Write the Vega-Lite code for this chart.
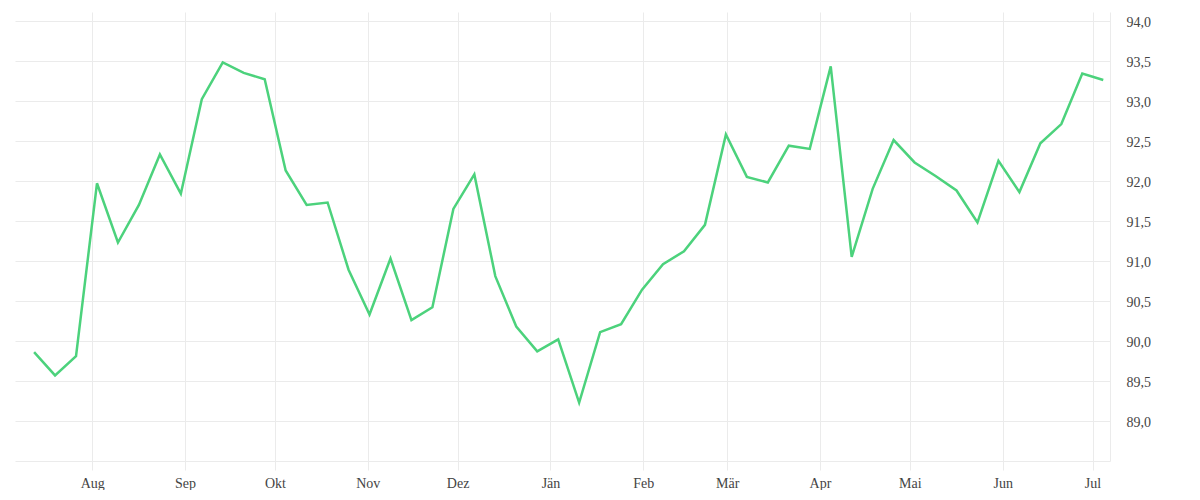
{
  "$schema": "https://vega.github.io/schema/vega-lite/v6.json",
  "width": 1095,
  "height": 449,
  "padding": {"left": 15, "top": 12, "right": 0, "bottom": 0},
  "data": {
    "values": [
      {"date": "2022-07-12T14:00", "value": 89.86},
      {"date": "2022-07-19T14:00", "value": 89.57},
      {"date": "2022-07-26T14:00", "value": 89.81},
      {"date": "2022-08-02T14:00", "value": 91.97},
      {"date": "2022-08-09T14:00", "value": 91.23},
      {"date": "2022-08-16T14:00", "value": 91.70},
      {"date": "2022-08-23T14:00", "value": 92.33},
      {"date": "2022-08-30T14:00", "value": 91.84},
      {"date": "2022-09-06T14:00", "value": 93.02},
      {"date": "2022-09-13T14:00", "value": 93.48},
      {"date": "2022-09-20T14:00", "value": 93.35},
      {"date": "2022-09-27T14:00", "value": 93.27},
      {"date": "2022-10-04T14:00", "value": 92.13},
      {"date": "2022-10-11T14:00", "value": 91.70},
      {"date": "2022-10-18T14:00", "value": 91.73},
      {"date": "2022-10-25T14:00", "value": 90.89},
      {"date": "2022-11-01T14:00", "value": 90.33},
      {"date": "2022-11-08T14:00", "value": 91.03},
      {"date": "2022-11-15T14:00", "value": 90.26},
      {"date": "2022-11-22T14:00", "value": 90.42},
      {"date": "2022-11-29T14:00", "value": 91.65},
      {"date": "2022-12-06T14:00", "value": 92.08},
      {"date": "2022-12-13T14:00", "value": 90.81},
      {"date": "2022-12-20T14:00", "value": 90.18},
      {"date": "2022-12-27T14:00", "value": 89.87},
      {"date": "2023-01-03T14:00", "value": 90.02},
      {"date": "2023-01-10T14:00", "value": 89.23},
      {"date": "2023-01-17T14:00", "value": 90.11},
      {"date": "2023-01-24T14:00", "value": 90.21},
      {"date": "2023-01-31T14:00", "value": 90.64},
      {"date": "2023-02-07T14:00", "value": 90.96},
      {"date": "2023-02-14T14:00", "value": 91.12},
      {"date": "2023-02-21T14:00", "value": 91.45},
      {"date": "2023-02-28T14:00", "value": 92.58},
      {"date": "2023-03-07T14:00", "value": 92.05},
      {"date": "2023-03-14T14:00", "value": 91.98},
      {"date": "2023-03-21T14:00", "value": 92.44},
      {"date": "2023-03-28T14:00", "value": 92.40},
      {"date": "2023-04-04T14:00", "value": 93.43},
      {"date": "2023-04-11T14:00", "value": 91.05},
      {"date": "2023-04-18T14:00", "value": 91.90},
      {"date": "2023-04-25T14:00", "value": 92.51},
      {"date": "2023-05-02T14:00", "value": 92.23},
      {"date": "2023-05-09T14:00", "value": 92.06},
      {"date": "2023-05-16T14:00", "value": 91.88},
      {"date": "2023-05-23T14:00", "value": 91.48},
      {"date": "2023-05-30T14:00", "value": 92.25},
      {"date": "2023-06-06T14:00", "value": 91.86},
      {"date": "2023-06-13T14:00", "value": 92.47},
      {"date": "2023-06-20T14:00", "value": 92.71},
      {"date": "2023-06-27T14:00", "value": 93.34},
      {"date": "2023-07-04T14:00", "value": 93.26}
    ]
  },
  "mark": {"type": "line", "color": "#4cd27c", "strokeWidth": 2.5, "strokeJoin": "miter"},
  "encoding": {
    "x": {
      "field": "date",
      "type": "temporal",
      "title": null,
      "scale": {
        "domain": [
          {"year": 2022, "month": 7, "date": 6, "hours": 5},
          {"year": 2023, "month": 7, "date": 6, "hours": 20}
        ]
      },
      "axis": {
        "values": [
          {"year": 2022, "month": 8, "date": 1},
          {"year": 2022, "month": 9, "date": 1},
          {"year": 2022, "month": 10, "date": 1},
          {"year": 2022, "month": 11, "date": 1},
          {"year": 2022, "month": 12, "date": 1},
          {"year": 2023, "month": 1, "date": 1},
          {"year": 2023, "month": 2, "date": 1},
          {"year": 2023, "month": 3, "date": 1},
          {"year": 2023, "month": 4, "date": 1},
          {"year": 2023, "month": 5, "date": 1},
          {"year": 2023, "month": 6, "date": 1},
          {"year": 2023, "month": 7, "date": 1}
        ],
        "labelExpr": "['Jän','Feb','Mär','Apr','Mai','Jun','Jul','Aug','Sep','Okt','Nov','Dez'][month(datum.value)]",
        "ticks": true,
        "tickSize": 9,
        "tickColor": "#ebebeb",
        "domainColor": "#ebebeb",
        "labelPadding": 6
      }
    },
    "y": {
      "field": "value",
      "type": "quantitative",
      "title": null,
      "scale": {"domain": [88.5, 94.11], "nice": false, "zero": false},
      "axis": {
        "orient": "right",
        "values": [89, 89.5, 90, 90.5, 91, 91.5, 92, 92.5, 93, 93.5, 94],
        "labelExpr": "replace(format(datum.value, '.1f'), '.', ',')",
        "ticks": false,
        "domainColor": "#ebebeb",
        "labelPadding": 16,
        "labelAlign": "left",
        "labelOffset": 2
      }
    }
  },
  "config": {
    "view": {"stroke": null},
    "axis": {
      "grid": true,
      "gridColor": "#ebebeb",
      "gridWidth": 1,
      "labelFont": "Liberation Serif",
      "labelFontSize": 14,
      "labelColor": "#444444"
    }
  }
}
